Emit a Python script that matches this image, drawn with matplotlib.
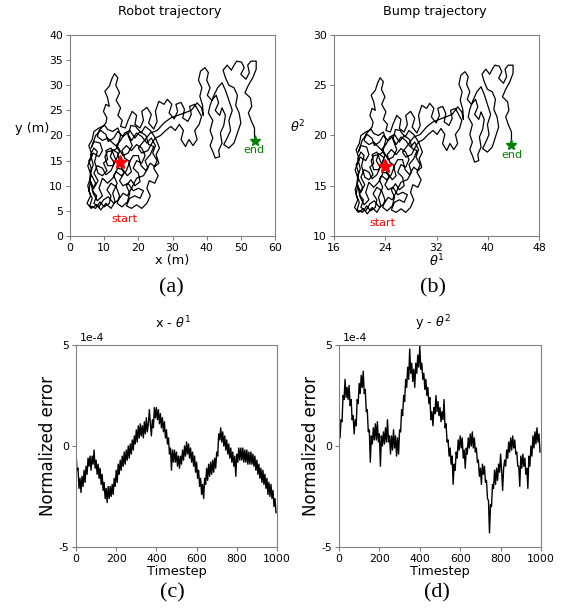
import numpy as np
import matplotlib.pyplot as plt

plt.rcParams['font.family'] = 'DejaVu Sans'
plt.rcParams['axes.unicode_minus'] = False

# Robot trajectory (m)
robot_x = [14.5, 14.0, 12.5, 11.8, 13.0, 12.0, 10.5, 9.5, 8.0, 7.0,
           8.2, 7.0, 6.0, 5.5, 6.5, 5.8, 7.5, 8.8, 10.0, 11.5,
           12.0, 10.8, 12.0, 13.5, 14.5, 13.8, 15.2, 16.8, 17.5, 16.5,
           17.8, 19.0, 20.5, 20.0, 18.5, 19.5, 21.0, 22.0, 21.0, 19.5,
           18.0, 16.5, 15.2, 16.0, 17.5, 16.5, 15.0, 13.5, 12.5, 11.0,
           9.5, 8.5, 9.5, 8.0, 6.8, 5.8, 6.2, 5.5, 6.8, 8.5,
           9.5, 8.8, 7.0, 6.2, 7.5, 9.0, 10.5, 11.2, 12.8, 14.0,
           15.5, 16.8, 18.0, 19.5, 21.0, 22.5, 23.8, 25.0, 24.2, 25.5,
           24.5, 25.8, 24.8, 23.2, 22.5, 23.5, 22.5, 21.0, 19.5, 18.0,
           16.5, 17.5, 19.0, 20.5, 21.5, 20.0, 18.5, 17.0, 15.5, 14.5,
           15.8, 14.8, 13.2, 12.0, 10.5, 11.0, 9.8, 10.8, 9.5, 8.2,
           7.2, 8.0, 7.0, 6.0, 6.8, 6.0, 7.5, 6.5, 7.8, 7.0,
           8.5, 9.8, 11.2, 12.8, 14.2, 15.5, 16.8, 18.0, 19.5, 21.5,
           22.8, 22.0, 23.5, 24.5, 23.0, 22.2, 20.5, 19.0, 17.5, 16.0,
           14.8, 13.5, 14.5, 13.5, 12.5, 11.0, 10.2, 11.0, 12.8, 13.8,
           14.8, 14.0, 12.5, 11.0, 10.2,
           8.5, 7.0, 6.5, 5.5, 6.5, 5.2, 6.2, 5.2, 6.0, 5.0,
           6.2, 7.8, 9.0, 10.5, 12.0, 13.2, 12.5, 13.8, 12.8, 14.0,
           15.5, 16.8, 18.0, 17.2, 18.5, 20.0, 20.8, 22.2, 23.5, 24.8,
           26.0, 25.2, 26.2, 25.0, 23.5, 22.0, 20.8, 19.2, 17.8, 17.0,
           18.2, 17.0, 15.5, 14.2, 12.5, 11.0, 9.5, 8.0, 8.5, 10.5,
           10.8, 9.8, 10.5, 11.5, 11.0, 10.2, 11.5, 12.2, 13.0, 14.0,
           13.4, 14.5, 13.5, 14.8, 14.0, 15.3, 14.8, 16.2,
           17.0, 18.2, 19.5, 19.0, 20.5, 21.5, 21.0, 22.5, 23.8, 23.0,
           24.5, 25.5, 25.0, 26.0, 27.5, 28.5, 29.8, 29.0, 30.5, 31.5,
           31.0, 32.5, 33.5, 33.0, 34.5, 35.5, 35.0, 36.5, 37.5, 38.5,
           37.8, 36.5, 37.2, 36.0, 34.8, 33.8, 32.5, 33.2, 32.0, 30.8,
           29.5, 28.0, 26.5, 25.0, 24.0, 22.8, 21.0, 20.0,
           21.5, 23.5, 25.5, 27.5, 29.5, 31.5, 33.5, 35.5, 37.2, 38.5,
           39.0, 38.8, 38.0, 38.6, 37.6, 38.2, 39.5, 40.5, 40.0, 41.0,
           40.2, 41.5, 42.8, 43.5, 42.5, 43.8, 44.5, 45.5, 45.0, 44.0,
           44.5, 43.5, 43.8, 42.5, 41.8, 41.0, 41.8, 41.0, 41.8, 40.5,
           41.0, 42.0, 43.2, 44.5, 45.5, 46.5, 47.5, 46.5, 47.0, 46.0,
           45.0, 46.5, 48.0, 49.0, 50.0, 49.5, 48.5, 49.0, 48.0, 46.5,
           45.5, 44.8, 46.0, 47.2, 48.2, 48.8, 50.2, 51.0, 50.0, 51.5,
           52.5, 52.0, 53.0, 54.5, 54.5, 53.5, 52.2, 51.2, 52.8, 53.2,
           52.2, 53.0, 54.0, 54.0]
robot_y = [14.8, 16.5, 17.2, 15.8, 14.5, 13.0, 12.2, 13.5, 14.0, 12.5,
           11.0, 9.5, 10.8, 9.0, 7.5, 6.0, 5.5, 6.8, 5.8, 6.5,
           8.0, 9.2, 10.5, 9.8, 8.0, 6.5, 5.8, 6.8, 8.5, 10.0,
           11.2, 10.0, 10.8, 12.5, 13.5, 15.0, 14.5, 16.0, 17.5, 18.2,
           17.0, 18.0, 17.0, 15.5, 14.8, 13.0, 12.0, 12.8, 11.5, 10.5,
           11.5, 9.5, 8.0, 7.0, 8.5, 11.5, 13.5, 15.0, 16.5, 15.8,
           17.0, 18.5, 18.8, 17.5, 20.0, 21.0, 20.2, 18.8, 19.5, 20.8,
           19.8, 20.5, 19.0, 20.5, 19.8, 18.5, 19.5, 18.0, 16.5, 15.0,
           13.5, 12.0, 10.5, 11.0, 9.5, 8.0, 6.5, 5.5, 6.2, 5.5,
           6.0, 7.5, 8.0, 7.5, 9.0, 9.5, 9.0, 10.5, 10.0, 11.0,
           12.5, 14.0, 15.5, 17.5, 17.0, 15.2, 14.5, 13.0, 12.0, 12.5,
           14.8, 16.8, 17.5, 16.2, 14.2, 12.5, 10.5, 9.0, 8.0, 6.5,
           5.8, 7.2, 7.8, 6.5, 7.2, 8.5, 8.0, 9.5, 11.5, 12.0,
           13.5, 15.0, 16.2, 17.8, 18.2, 20.0, 20.8, 19.5, 21.0, 20.5,
           19.0, 18.0, 16.8, 15.2, 14.0, 14.0, 15.8, 16.8, 17.0, 17.5,
           20.0, 21.5, 20.8, 21.2, 22.0,
           21.5, 20.8, 19.2, 18.0, 16.0, 14.0, 12.0, 10.0, 8.0, 6.5,
           5.5, 6.2, 5.2, 6.5, 5.5, 6.8, 8.5, 10.5, 12.0, 13.5,
           13.2, 12.0, 12.8, 14.5, 16.0, 16.0, 14.0, 13.0, 14.5, 13.8,
           14.5, 16.2, 17.5, 19.5, 21.0, 21.8, 20.5, 21.8, 22.0, 20.0,
           18.0, 16.5, 16.0, 17.5, 18.5, 19.5, 19.0, 19.8, 21.0, 22.5,
           23.5, 24.8, 26.2, 25.8, 27.5, 28.8, 29.8, 31.2, 32.3, 31.5,
           30.0, 28.5, 27.0, 25.5, 24.0, 23.0, 21.8, 21.5,
           23.0, 24.8, 24.0, 22.2, 21.5, 23.0, 24.8, 25.6, 24.2, 22.5,
           21.3, 22.8, 24.8, 26.8, 26.2, 27.2, 26.2, 24.5, 23.3, 24.8,
           26.2, 26.6, 25.2, 23.5, 22.8, 24.2, 25.8, 26.2, 25.0, 23.8,
           22.2, 21.0, 19.2, 18.0, 19.2, 17.8, 19.2, 21.0, 22.2, 21.0,
           21.8, 21.0, 20.0, 19.5, 18.5, 17.0, 16.5, 17.5,
           18.8, 20.5, 21.0, 22.5, 23.5, 24.0, 24.5, 25.0, 26.5, 25.5,
           24.0, 26.0, 27.8, 29.5, 31.0, 32.8, 33.5, 32.5, 31.0, 29.5,
           28.0, 27.0, 28.0, 26.5, 25.0, 24.0, 25.5, 24.0, 22.0, 20.5,
           18.5, 17.0, 15.8, 15.5, 16.8, 18.0, 19.5, 21.0, 23.0, 24.5,
           26.0, 27.8, 29.5, 30.5, 29.0, 27.0, 25.0, 23.0, 21.0, 19.5,
           18.2, 17.5, 18.5, 20.5, 22.5, 24.5, 26.0, 28.0, 29.5, 30.0,
           31.5, 33.0, 34.0, 33.0, 34.2, 34.8, 34.6, 33.5, 32.2, 31.2,
           32.5, 34.0, 34.8, 34.8, 33.2, 31.5, 30.0, 28.5, 27.5, 25.8,
           24.5, 23.0, 21.5, 19.0]

# Bump trajectory (neural sheet coordinates)
bump_t1 = [23.95, 23.7, 22.95, 22.6, 23.2, 22.7, 21.95, 21.45, 20.7, 20.2,
           20.8, 20.2, 19.7, 19.45, 19.95, 19.6, 20.45, 21.1, 21.7, 22.45,
           22.7, 22.1, 22.7, 23.45, 23.95, 23.6, 24.3, 25.1, 25.45, 24.95,
           25.6, 26.2, 26.95, 26.7, 25.95, 26.45, 27.2, 27.7, 27.2, 26.45,
           25.7, 24.95, 24.3, 24.7, 25.45, 24.95, 24.2, 23.45, 22.95, 22.2,
           21.45, 20.95, 21.45, 20.7, 20.1, 19.6, 19.8, 19.45, 20.1, 20.95,
           21.45, 21.1, 20.2, 19.8, 20.45, 21.2, 21.95, 22.3, 23.1, 23.7,
           24.45, 25.1, 25.7, 26.45, 27.2, 27.95, 28.6, 29.2, 28.8, 29.45,
           28.95, 29.6, 29.1, 28.3, 27.95, 28.45, 27.95, 27.2, 26.45, 25.7,
           24.95, 25.45, 26.2, 26.95, 27.45, 26.7, 25.95, 25.2, 24.45, 23.95,
           24.6, 24.1, 23.3, 22.7, 21.95, 22.2, 21.6, 22.1, 21.45, 20.8,
           20.3, 20.7, 20.2, 19.7, 20.1, 19.7, 20.45, 19.95, 20.6, 20.2,
           20.95, 21.6, 22.3, 23.1, 23.8, 24.45, 25.1, 25.7, 26.45, 27.45,
           28.1, 27.7, 28.45, 28.95, 28.2, 27.8, 26.95, 26.2, 25.45, 24.7,
           24.1, 23.45, 23.95, 23.45, 22.95, 22.2, 21.8, 22.2, 23.1, 23.6,
           24.1, 23.7, 22.95, 22.2, 21.8,
           20.95, 20.2, 19.95, 19.45, 19.95, 19.3, 19.8, 19.3, 19.7, 19.2,
           19.8, 20.6, 21.2, 21.95, 22.7, 23.3, 22.95, 23.6, 23.1, 23.7,
           24.45, 25.1, 25.7, 25.3, 25.95, 26.7, 27.1, 27.8, 28.45, 29.1,
           29.7, 29.3, 29.8, 29.2, 28.45, 27.7, 27.1, 26.3, 25.6, 25.2,
           25.8, 25.2, 24.45, 23.8, 22.95, 22.2, 21.45, 20.7, 20.95, 21.95,
           22.1, 21.6, 21.95, 22.45, 22.2, 21.8, 22.45, 22.8, 23.2, 23.7,
           23.4, 23.95, 23.45, 24.1, 23.7, 24.35, 24.1, 24.8,
           25.2, 25.8, 26.45, 26.2, 26.95, 27.45, 27.2, 27.95, 28.6, 28.2,
           28.95, 29.45, 29.2, 29.7, 30.45, 30.95, 31.6, 31.2, 31.95, 32.45,
           32.2, 32.95, 33.45, 33.2, 33.95, 34.45, 34.2, 34.95, 35.45, 35.95,
           35.6, 34.95, 35.3, 34.7, 34.1, 33.6, 32.95, 33.3, 32.7, 32.1,
           31.45, 30.7, 29.95, 29.2, 28.7, 28.1, 27.2, 26.7,
           27.45, 28.45, 29.45, 30.45, 31.45, 32.45, 33.45, 34.45, 35.3, 35.95,
           36.2, 36.1, 35.7, 36.0, 35.5, 35.8, 36.45, 36.95, 36.7, 37.2,
           36.8, 37.45, 38.1, 38.45, 37.95, 38.6, 38.95, 39.45, 39.2, 38.7,
           38.95, 38.45, 38.6, 37.95, 37.6, 37.2, 37.6, 37.2, 37.6, 36.95,
           37.2, 37.7, 38.3, 38.95, 39.45, 39.95, 40.45, 39.95, 40.2, 39.7,
           39.2, 39.95, 40.7, 41.2, 41.7, 41.45, 40.95, 41.2, 40.7, 39.95,
           39.45, 39.1, 39.7, 40.3, 40.8, 41.1, 41.8, 42.2, 41.7, 42.45,
           42.95, 42.7, 43.2, 43.95, 43.95, 43.45, 42.8, 42.3, 43.1, 43.3,
           42.8, 43.2, 43.7, 43.7]
bump_t2 = [17.0, 17.85, 18.2, 17.5, 16.85, 16.1, 15.7, 16.35, 16.6, 15.85,
           15.1, 14.35, 15.0, 14.1, 13.35, 12.6, 12.35, 13.0, 12.5, 12.85,
           13.6, 14.2, 14.85, 14.5, 13.6, 12.85, 12.5, 13.0, 13.85, 14.6,
           15.2, 14.6, 15.0, 15.85, 16.35, 17.1, 16.85, 17.6, 18.35, 18.7,
           18.1, 18.6, 18.1, 17.35, 17.0, 16.1, 15.6, 16.0, 15.35, 14.85,
           15.35, 14.35, 13.6, 13.1, 13.85, 15.35, 16.35, 17.1, 17.85, 17.5,
           18.1, 18.85, 19.0, 18.35, 19.6, 20.1, 19.7, 19.0, 19.35, 20.0,
           19.5, 19.85, 19.1, 19.85, 19.5, 18.85, 19.35, 18.6, 17.85, 17.1,
           16.35, 15.6, 14.85, 15.1, 14.35, 13.6, 12.85, 12.35, 12.7, 12.35,
           12.6, 13.35, 13.6, 13.35, 14.1, 14.35, 14.1, 14.85, 14.6, 15.1,
           15.85, 16.6, 17.35, 18.35, 18.1, 17.2, 16.85, 16.1, 15.6, 15.85,
           17.0, 18.0, 18.35, 17.7, 16.7, 15.85, 14.85, 14.1, 13.6, 12.85,
           12.5, 13.2, 13.5, 12.85, 13.2, 13.85, 13.6, 14.35, 15.35, 15.6,
           16.35, 17.1, 17.7, 18.5, 18.7, 19.6, 20.0, 19.35, 20.1, 19.85,
           19.1, 18.6, 18.0, 17.2, 16.6, 16.6, 17.5, 18.0, 18.1, 18.35,
           19.6, 20.35, 20.0, 20.2, 20.6,
           20.35, 20.0, 19.2, 18.6, 17.6, 16.6, 15.6, 14.6, 13.6, 12.85,
           12.35, 12.7, 12.2, 12.85, 12.35, 13.0, 13.85, 14.85, 15.6, 16.35,
           16.2, 15.6, 16.0, 16.85, 17.6, 17.6, 16.6, 16.1, 16.85, 16.5,
           16.85, 17.7, 18.35, 19.35, 20.1, 20.5, 19.85, 20.5, 20.6, 19.6,
           18.6, 17.85, 17.6, 18.35, 18.85, 19.35, 19.1, 19.5, 20.1, 20.85,
           21.35, 22.0, 22.7, 22.5, 23.35, 24.0, 24.5, 25.2, 25.75, 25.35,
           24.6, 23.85, 23.1, 22.35, 21.6, 21.1, 20.5, 20.35,
           21.1, 22.0, 21.6, 20.7, 20.35, 21.1, 22.0, 22.4, 21.7, 20.85,
           20.25, 21.0, 22.0, 23.0, 22.7, 23.2, 22.7, 21.85, 21.25, 22.0,
           22.7, 22.9, 22.2, 21.35, 21.0, 21.7, 22.5, 22.7, 22.1, 21.5,
           20.7, 20.1, 19.2, 18.6, 19.2, 18.5, 19.2, 20.1, 20.7, 20.1,
           20.5, 20.1, 19.6, 19.35, 18.85, 18.1, 17.85, 18.35,
           19.0, 19.85, 20.1, 20.85, 21.35, 21.6, 21.85, 22.1, 22.85, 22.35,
           21.6, 22.6, 23.5, 24.35, 25.1, 26.0, 26.35, 25.85, 25.1, 24.35,
           23.6, 23.1, 23.6, 22.85, 22.1, 21.6, 22.35, 21.6, 20.6, 19.85,
           18.85, 18.1, 17.5, 17.35, 18.0, 18.6, 19.35, 20.1, 21.1, 21.85,
           22.6, 23.5, 24.35, 24.85, 24.1, 23.1, 22.1, 21.1, 20.1, 19.35,
           18.7, 18.35, 18.85, 19.85, 20.85, 21.85, 22.6, 23.6, 24.35, 24.6,
           25.35, 26.1, 26.6, 26.1, 26.7, 27.0, 26.9, 26.35, 25.7, 25.2,
           25.85, 26.6, 27.0, 27.0, 26.2, 25.35, 24.6, 23.85, 23.35, 22.5,
           21.85, 21.1, 20.35, 19.1]

# Normalized error (x 1e-4), every 5 timesteps
err_x_theta1 = [-0.3, -1.2, -1.1, -2.1, -1.6, -2.3, -1.5, -2.0, -1.2, -1.8,
                -1.0, -1.4, -0.6, -1.0, -0.5, -1.2, -0.5, -0.9, -0.2, -1.1,
                -0.7, -1.4, -0.9, -1.6, -1.1, -1.9, -1.4, -2.2, -1.8, -2.6,
                -2.1, -2.8, -2.0, -2.6, -2.0, -2.5, -1.9, -2.4, -1.6, -2.0,
                -1.2, -1.8, -0.9, -1.4, -0.7, -1.2, -0.5, -1.0, -0.3, -0.9,
                -0.2, -0.7, 0.0, -0.6, 0.1, -0.4, 0.3, -0.2, 0.5, 0.1,
                0.8, 0.2, 1.0, 0.4, 1.1, 0.5, 1.0, 0.4, 1.2, 0.6,
                1.4, 0.7, 1.1, 1.8, 1.1, 0.5, 1.3, 0.9, 1.9, 1.4,
                1.9, 1.3, 1.8, 1.1, 1.6, 0.9, 1.4, 0.7, 1.2, 0.4,
                0.8, 0.1, 0.4, -0.4, -0.1, -1.2, -0.2, -0.8, -0.2, -0.8,
                -0.3, -1.0, -0.5, -1.1, -0.5, -0.9, -0.2, -0.7, 0.0, -0.5,
                0.2, -0.4, 0.1, -0.6, -0.1, -0.8, -0.3, -1.0, -0.5, -1.3,
                -0.8, -1.6, -1.2, -2.0, -1.6, -2.4, -1.9, -2.6, -1.6, -1.9,
                -1.1, -1.7, -0.9, -1.5, -0.8, -1.4, -0.7, -1.3, -0.6, -1.1,
                -0.3, -0.5, 0.6, 0.3, 0.9, 0.2, 0.7, 0.0, 0.5, -0.2,
                0.3, -0.4, 0.1, -0.6, -0.1, -0.8, -0.3, -1.0, -0.5, -1.5,
                -0.4, -0.8, -0.1, -0.7, -0.1, -0.7, -0.1, -0.8, -0.2, -0.8,
                -0.2, -0.9, -0.3, -0.9, -0.3, -0.9, -0.4, -1.0, -0.5, -1.2,
                -0.7, -1.4, -0.9, -1.6, -1.1, -1.8, -1.2, -1.9, -1.4, -2.1,
                -1.6, -2.4, -1.8, -2.5, -1.9, -2.6, -2.2, -3.0, -2.6, -3.3]
err_y_theta2 = [1.3, 0.4, 1.3, 1.2, 2.5, 2.3, 3.3, 2.4, 2.9, 2.3,
                3.0, 2.0, 2.3, 1.3, 1.5, 0.6, 1.3, 1.0, 2.3, 2.1,
                3.1, 2.6, 3.5, 2.9, 3.7, 2.6, 2.8, 1.7, 1.8, 0.7,
                0.8, -0.8, 0.5, 0.1, 0.9, 0.3, 1.1, 0.3, 1.2, 0.2,
                0.6, -1.0, 0.5, 0.0, 0.7, 0.1, 0.9, 0.2, 1.3, 0.2,
                0.5, -0.4, 0.5, -0.2, 0.8, -0.1, 0.5, -0.5, 0.4, -0.4,
                0.8, 0.7, 1.8, 1.5, 2.5, 2.2, 3.3, 2.9, 3.9, 3.3,
                4.8, 3.6, 4.1, 3.2, 3.8, 2.9, 4.1, 3.6, 4.5, 3.9,
                4.95, 3.8, 4.1, 3.3, 3.6, 2.8, 3.3, 2.5, 2.9, 2.1,
                2.4, 1.3, 1.7, 1.0, 1.9, 1.6, 2.5, 1.7, 2.2, 1.5,
                1.9, 1.2, 1.7, 1.3, 2.3, 0.9, 1.1, 0.2, 0.3, -0.5,
                -0.1, -0.9, -0.5, -1.9, -0.9, -1.2, -0.3, -0.6, 0.3, -0.2,
                0.5, -0.1, 0.4, -0.6, -0.2, -1.1, -0.1, -0.4, 0.4, -0.1,
                0.6, 0.0, 0.7, -0.1, 0.4, -0.3, -0.1, -0.8, -0.7, -1.5,
                -1.1, -1.9, -0.9, -1.4, -1.0, -1.8, -1.7, -2.6, -2.7, -4.3,
                -2.9, -3.0, -1.9, -2.1, -1.2, -1.9, -1.1, -1.7, -0.9, -1.3,
                -0.4, -1.2, -2.2, -1.1, -0.7, -1.0, -0.2, -0.6, 0.2, -0.3,
                0.4, -0.2, 0.5, -0.1, 0.3, -0.4, -0.3, -1.0, -1.0, -2.0,
                -0.5, -1.1, -0.4, -1.0, -0.6, -1.4, -1.1, -2.1, -0.5, -1.0,
                0.0, -0.5, 0.5, -0.1, 0.7, 0.1, 0.9, 0.2, 0.6, -0.3]

W, H = 568, 608
fig = plt.figure(figsize=(W / 100, H / 100), dpi=100)


def px_axes(left, top, right, bottom):
    return fig.add_axes([left / W, 1 - bottom / H, (right - left) / W, (bottom - top) / H])


def style(ax):
    for s in ax.spines.values():
        s.set_color('0.5')
        s.set_linewidth(0.8)
    ax.tick_params(labelsize=7.8, length=3, width=0.8, color='0.5', pad=2)


# (a) robot trajectory
ax = px_axes(70, 35, 275, 236)
ax.plot(robot_x, robot_y, color='black', lw=0.9, solid_joinstyle='round')
ax.plot(robot_x[0], robot_y[0], marker='*', color='red', ms=10, zorder=5)
ax.plot(robot_x[-1], robot_y[-1], marker='*', color='green', ms=8, zorder=5)
ax.text(15.8, 3.4, 'start', color='red', fontsize=8, ha='center', va='center')
ax.text(53.9, 17.1, 'end', color='green', fontsize=8, ha='center', va='center')
ax.set_xlim(0, 60)
ax.set_ylim(0, 40)
ax.set_xticks(range(0, 61, 10))
ax.set_yticks(range(0, 41, 5))
ax.set_xlabel('x (m)', fontsize=9.3, labelpad=1)
ax.set_ylabel('y (m)', fontsize=9.3, rotation=0, ha='center', va='center')
ax.yaxis.set_label_coords(-0.185, 0.535)
style(ax)

# (b) bump trajectory
ax = px_axes(334, 35, 539, 236)
ax.plot(bump_t1, bump_t2, color='black', lw=0.9, solid_joinstyle='round')
ax.plot(bump_t1[0], bump_t2[0], marker='*', color='red', ms=10, zorder=5)
ax.plot(bump_t1[-1], bump_t2[-1], marker='*', color='green', ms=8, zorder=5)
ax.text(23.5, 11.3, 'start', color='red', fontsize=8, ha='center', va='center')
ax.text(43.8, 18.1, 'end', color='green', fontsize=8, ha='center', va='center')
ax.set_xlim(16, 48)
ax.set_ylim(10, 30)
ax.set_xticks(range(16, 49, 8))
ax.set_yticks(range(10, 31, 5))
ax.set_xlabel(r'$\theta^1$', fontsize=9.3, labelpad=0)
ax.set_ylabel(r'$\theta^2$', fontsize=9.3, rotation=0, ha='center', va='center')
ax.yaxis.set_label_coords(-0.176, 0.54)
style(ax)

# (c), (d) normalized error
for (l, r), err, title, cx in [((76, 277), err_x_theta1, r'x - $\theta^1$', 173),
                               ((339, 541), err_y_theta2, r'y - $\theta^2$', 433)]:
    ax = px_axes(l, 345, r, 547)
    t = np.arange(len(err)) * 5
    ax.plot(t, err, color='black', lw=1.0)
    ax.set_xlim(0, 1000)
    ax.set_ylim(-5, 5)
    ax.set_xticks(range(0, 1001, 200))
    ax.set_yticks([-5, 0, 5])
    ax.set_yticklabels(['-5', '0', '5'])
    ax.set_xlabel('Timestep', fontsize=9.3, labelpad=1)
    ax.set_ylabel('Normalized error', fontsize=12, labelpad=1)
    ax.text(0.08, 1.01, '1e-4', transform=ax.transAxes, fontsize=7.8, ha='center', va='bottom')
    style(ax)
    fig.text(cx / W, 1 - 323 / H, title, fontsize=9.2, ha='center', va='center')

fig.text(170 / W, 1 - 12 / H, 'Robot trajectory', fontsize=9.2, ha='center', va='center')
fig.text(435 / W, 1 - 12 / H, 'Bump trajectory', fontsize=9.2, ha='center', va='center')

for x, y, s in [(171, 288, '(a)'), (433, 288, '(b)'), (172, 593, '(c)'), (437, 593, '(d)')]:
    fig.text(x / W, 1 - y / H, s, fontsize=16, family='Liberation Serif', ha='center', va='center')

fig.savefig('out.png', dpi=100)
